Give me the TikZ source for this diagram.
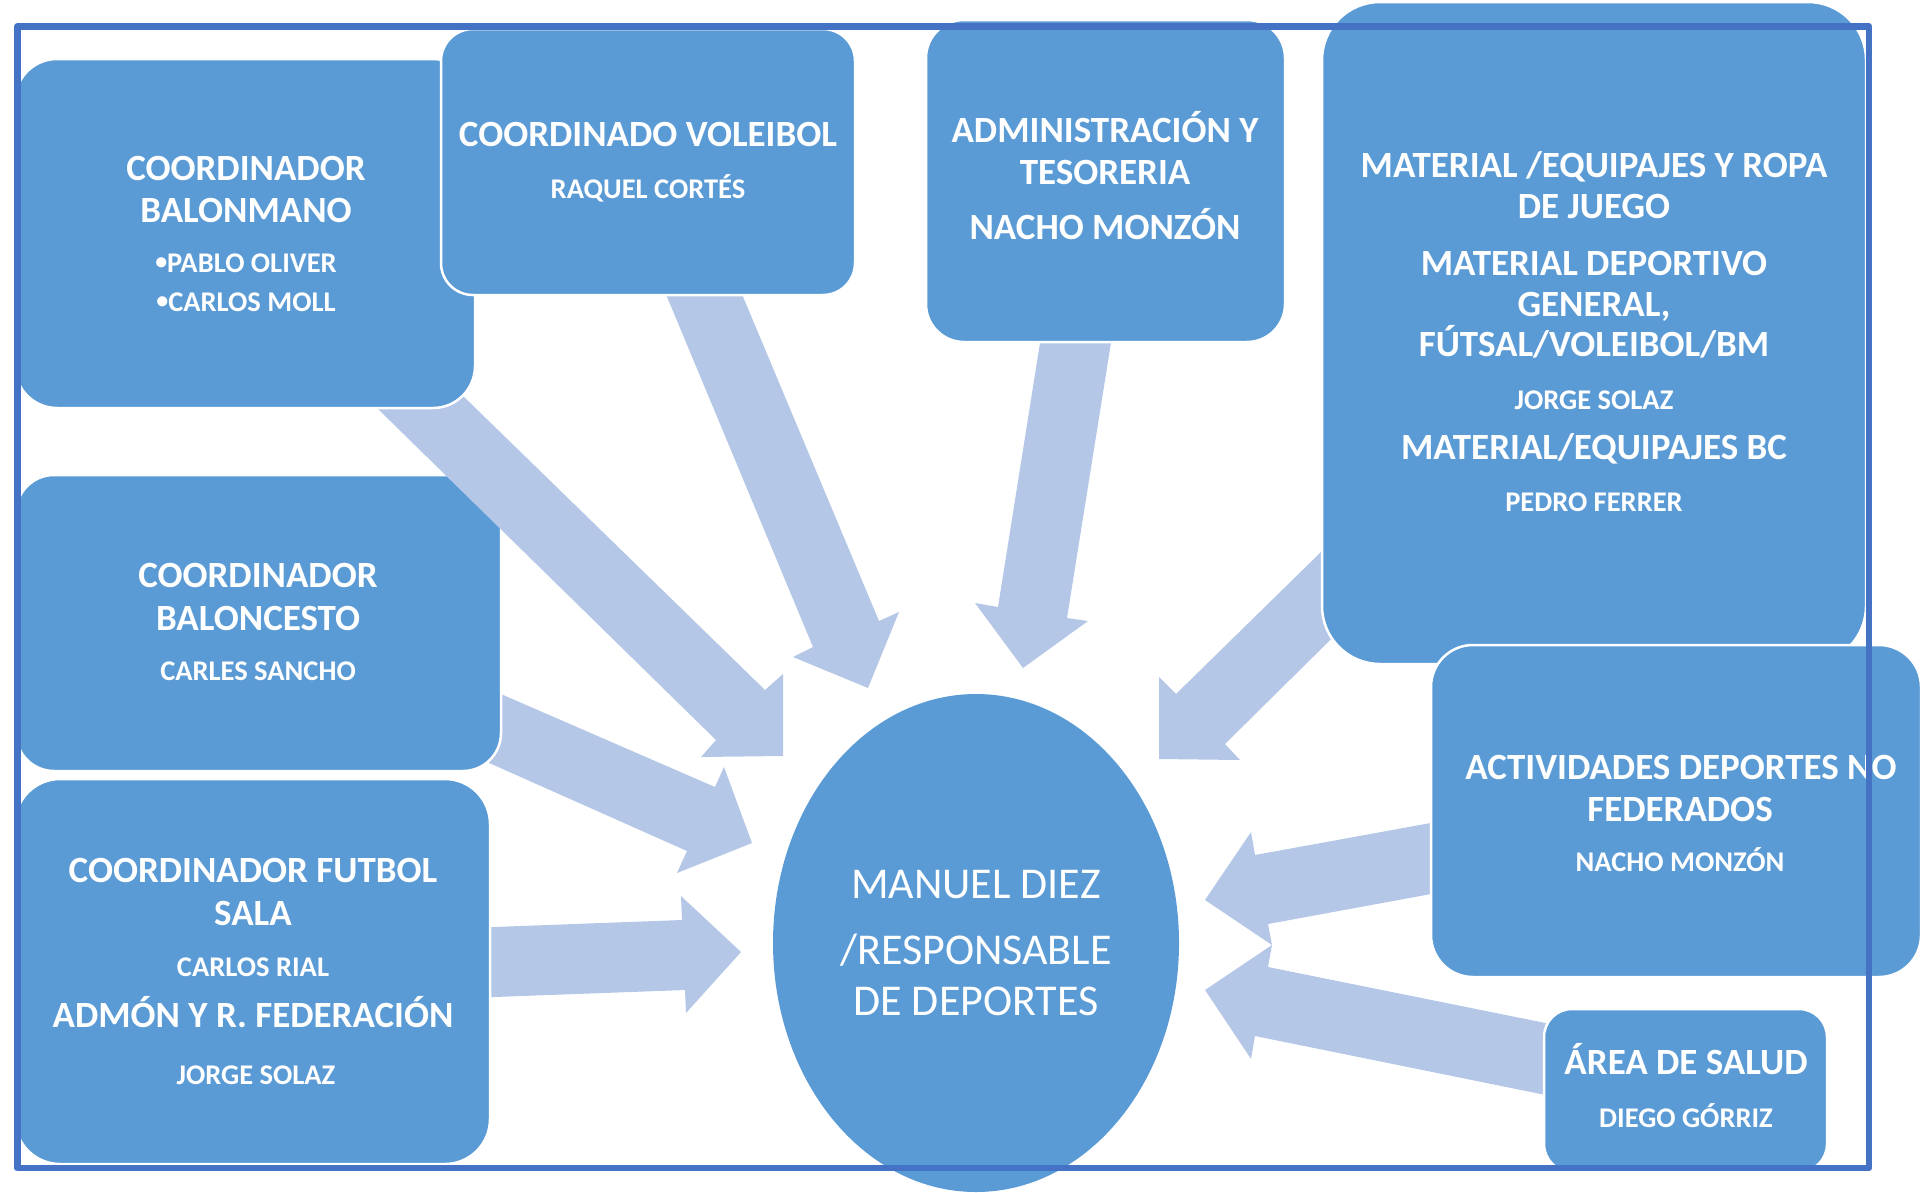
\documentclass[tikz,border=0pt]{standalone}
\usepackage{fontspec}
\setmainfont{Carlito}
\usetikzlibrary{shapes.geometric}
\definecolor{boxblue}{HTML}{5B9BD5}
\definecolor{arrblue}{HTML}{B4C7E7}
\definecolor{frameblue}{HTML}{4472C4}
\newcommand{\mybul}{{\fontsize{24}{24}\selectfont\raisebox{0.1em}{•}}}
\begin{document}
\begin{tikzpicture}[x=1pt,y=-1pt,
  box/.style={rectangle, fill=boxblue, draw=white, line width=2.5pt, inner sep=0pt, outer sep=0pt},
  blk/.style={fill=arrblue},
  ttl/.style={text=white, font=\bfseries\fontsize{37}{40}\selectfont, anchor=base, inner sep=0pt},
  sub/.style={text=white, font=\bfseries\fontsize{28.5}{32}\selectfont, anchor=base, inner sep=0pt},
  big/.style={text=white, font=\fontsize{44}{48}\selectfont, anchor=base, inner sep=0pt}]
\useasboundingbox (0,0) rectangle (1921,1192);
% block arrows under their source boxes
\fill[blk] (441,668) -- (715,787) -- (724,767) -- (752,843) -- (677,873) -- (687,851) -- (433,738) -- cycle; % E
\fill[blk] (440,929) -- (682,920) -- (681,896) -- (741,952) -- (686,1013) -- (685,990) -- (440,999) -- cycle; % F
\fill[blk] (640,232) -- (813,647) -- (793,657) -- (868,688) -- (899,612) -- (879,621) -- (718,237) -- cycle; % B
\fill[blk] (1050,280) -- (998,607) -- (975,603) -- (1023,668) -- (1088,621) -- (1067,618) -- (1121,280) -- cycle; % C
\fill[blk] (1372,502) -- (1176,694) -- (1159,677) -- (1159,759) -- (1240,760) -- (1225,744) -- (1407,564) -- cycle; % D
\fill[blk] (1480,814) -- (1255,855) -- (1251,832) -- (1205,900) -- (1272,945) -- (1268,924) -- (1480,885) -- cycle; % G
\fill[blk] (1590,1032) -- (1268,967) -- (1272,945) -- (1205,990) -- (1251,1059) -- (1255,1036) -- (1590,1104) -- cycle; % H
% boxes
\node[box, rounded corners=38pt, minimum width=485pt, minimum height=296pt] (bc) at (258.5,623) {};
\fill[blk] (330,362) -- (716,740) -- (701,757) -- (783,756) -- (783,674) -- (765,690) -- (420,354) -- cycle; % A
\node[box, rounded corners=42pt, minimum width=460pt, minimum height=349pt] (bm) at (245,233.5) {};
\node[box, rounded corners=32pt, minimum width=414pt, minimum height=266pt] (vb) at (648,162) {};
\node[box, rounded corners=38pt, minimum width=359pt, minimum height=322pt] (ad) at (1105.5,181) {};
\node[box, rounded corners=58pt, minimum width=544pt, minimum height=662pt] (ma) at (1594,333) {};
\node[box, rounded corners=42pt, minimum width=490pt, minimum height=332pt] (ac) at (1676,811) {};
\node[box, rounded corners=45pt, minimum width=475pt, minimum height=385pt] (fs) at (252.5,971.5) {};
\node[box, rounded corners=28pt, minimum width=283pt, minimum height=163pt] (sa) at (1685.5,1090.5) {};
\node[ellipse, fill=boxblue, inner sep=0pt, minimum width=406pt, minimum height=498pt] (md) at (976,943) {};
% texts
\node[ttl] (bm1) at (246,180) {COORDINADOR};
\node[ttl] (bm2) at (246,222) {BALONMANO};
\node[sub] (bm3) at (246,272) {\mybul PABLO OLIVER};
\node[sub] (bm4) at (246,311) {\mybul CARLOS MOLL};
\node[ttl] (vb1) at (648,146) {COORDINADO VOLEIBOL};
\node[sub] (vb2) at (648,198) {RAQUEL CORTÉS};
\node[ttl] (ad1) at (1105,142) {ADMINISTRACIÓN Y};
\node[ttl] (ad2) at (1105,184) {TESORERIA};
\node[ttl] (ad3) at (1105,239) {NACHO MONZÓN};
\node[ttl] (ma1) at (1594,177) {MATERIAL /EQUIPAJES Y ROPA};
\node[ttl] (ma2) at (1594,218) {DE JUEGO};
\node[ttl] (ma3) at (1594,275) {MATERIAL DEPORTIVO};
\node[ttl] (ma4) at (1594,316) {GENERAL,};
\node[ttl] (ma5) at (1594,356) {FÚTSAL/VOLEIBOL/BM};
\node[sub] (ma6) at (1594,409) {JORGE SOLAZ};
\node[ttl] (ma7) at (1594,459) {MATERIAL/EQUIPAJES BC};
\node[sub] (ma8) at (1594,511) {PEDRO FERRER};
\node[ttl] (bc1) at (258,587) {COORDINADOR};
\node[ttl] (bc2) at (258,630) {BALONCESTO};
\node[sub] (bc3) at (258,680) {CARLES SANCHO};
\node[ttl] (fs1) at (253,882) {COORDINADOR FUTBOL};
\node[ttl] (fs2) at (253,925) {SALA};
\node[sub] (fs3) at (253,976) {CARLOS RIAL};
\node[ttl] (fs4) at (253,1027) {ADMÓN Y R. FEDERACIÓN};
\node[sub] (fs5) at (256,1084) {JORGE SOLAZ};
\node[ttl] (ac1) at (1681,779) {ACTIVIDADES DEPORTES NO};
\node[ttl] (ac2) at (1680,821) {FEDERADOS};
\node[sub] (ac3) at (1680,871) {NACHO MONZÓN};
\node[ttl] (sa1) at (1686,1074) {ÁREA DE SALUD};
\node[sub] (sa2) at (1686,1127) {DIEGO GÓRRIZ};
\node[big] (md1) at (976,898) {MANUEL DIEZ};
\node[big] (md2) at (976,964) {/RESPONSABLE};
\node[big] (md3) at (976,1015) {DE DEPORTES};
% frame
\draw[frameblue, line width=6.5pt, line join=round] (17.3,26.3) rectangle (1869,1168);
\end{tikzpicture}
\end{document}
